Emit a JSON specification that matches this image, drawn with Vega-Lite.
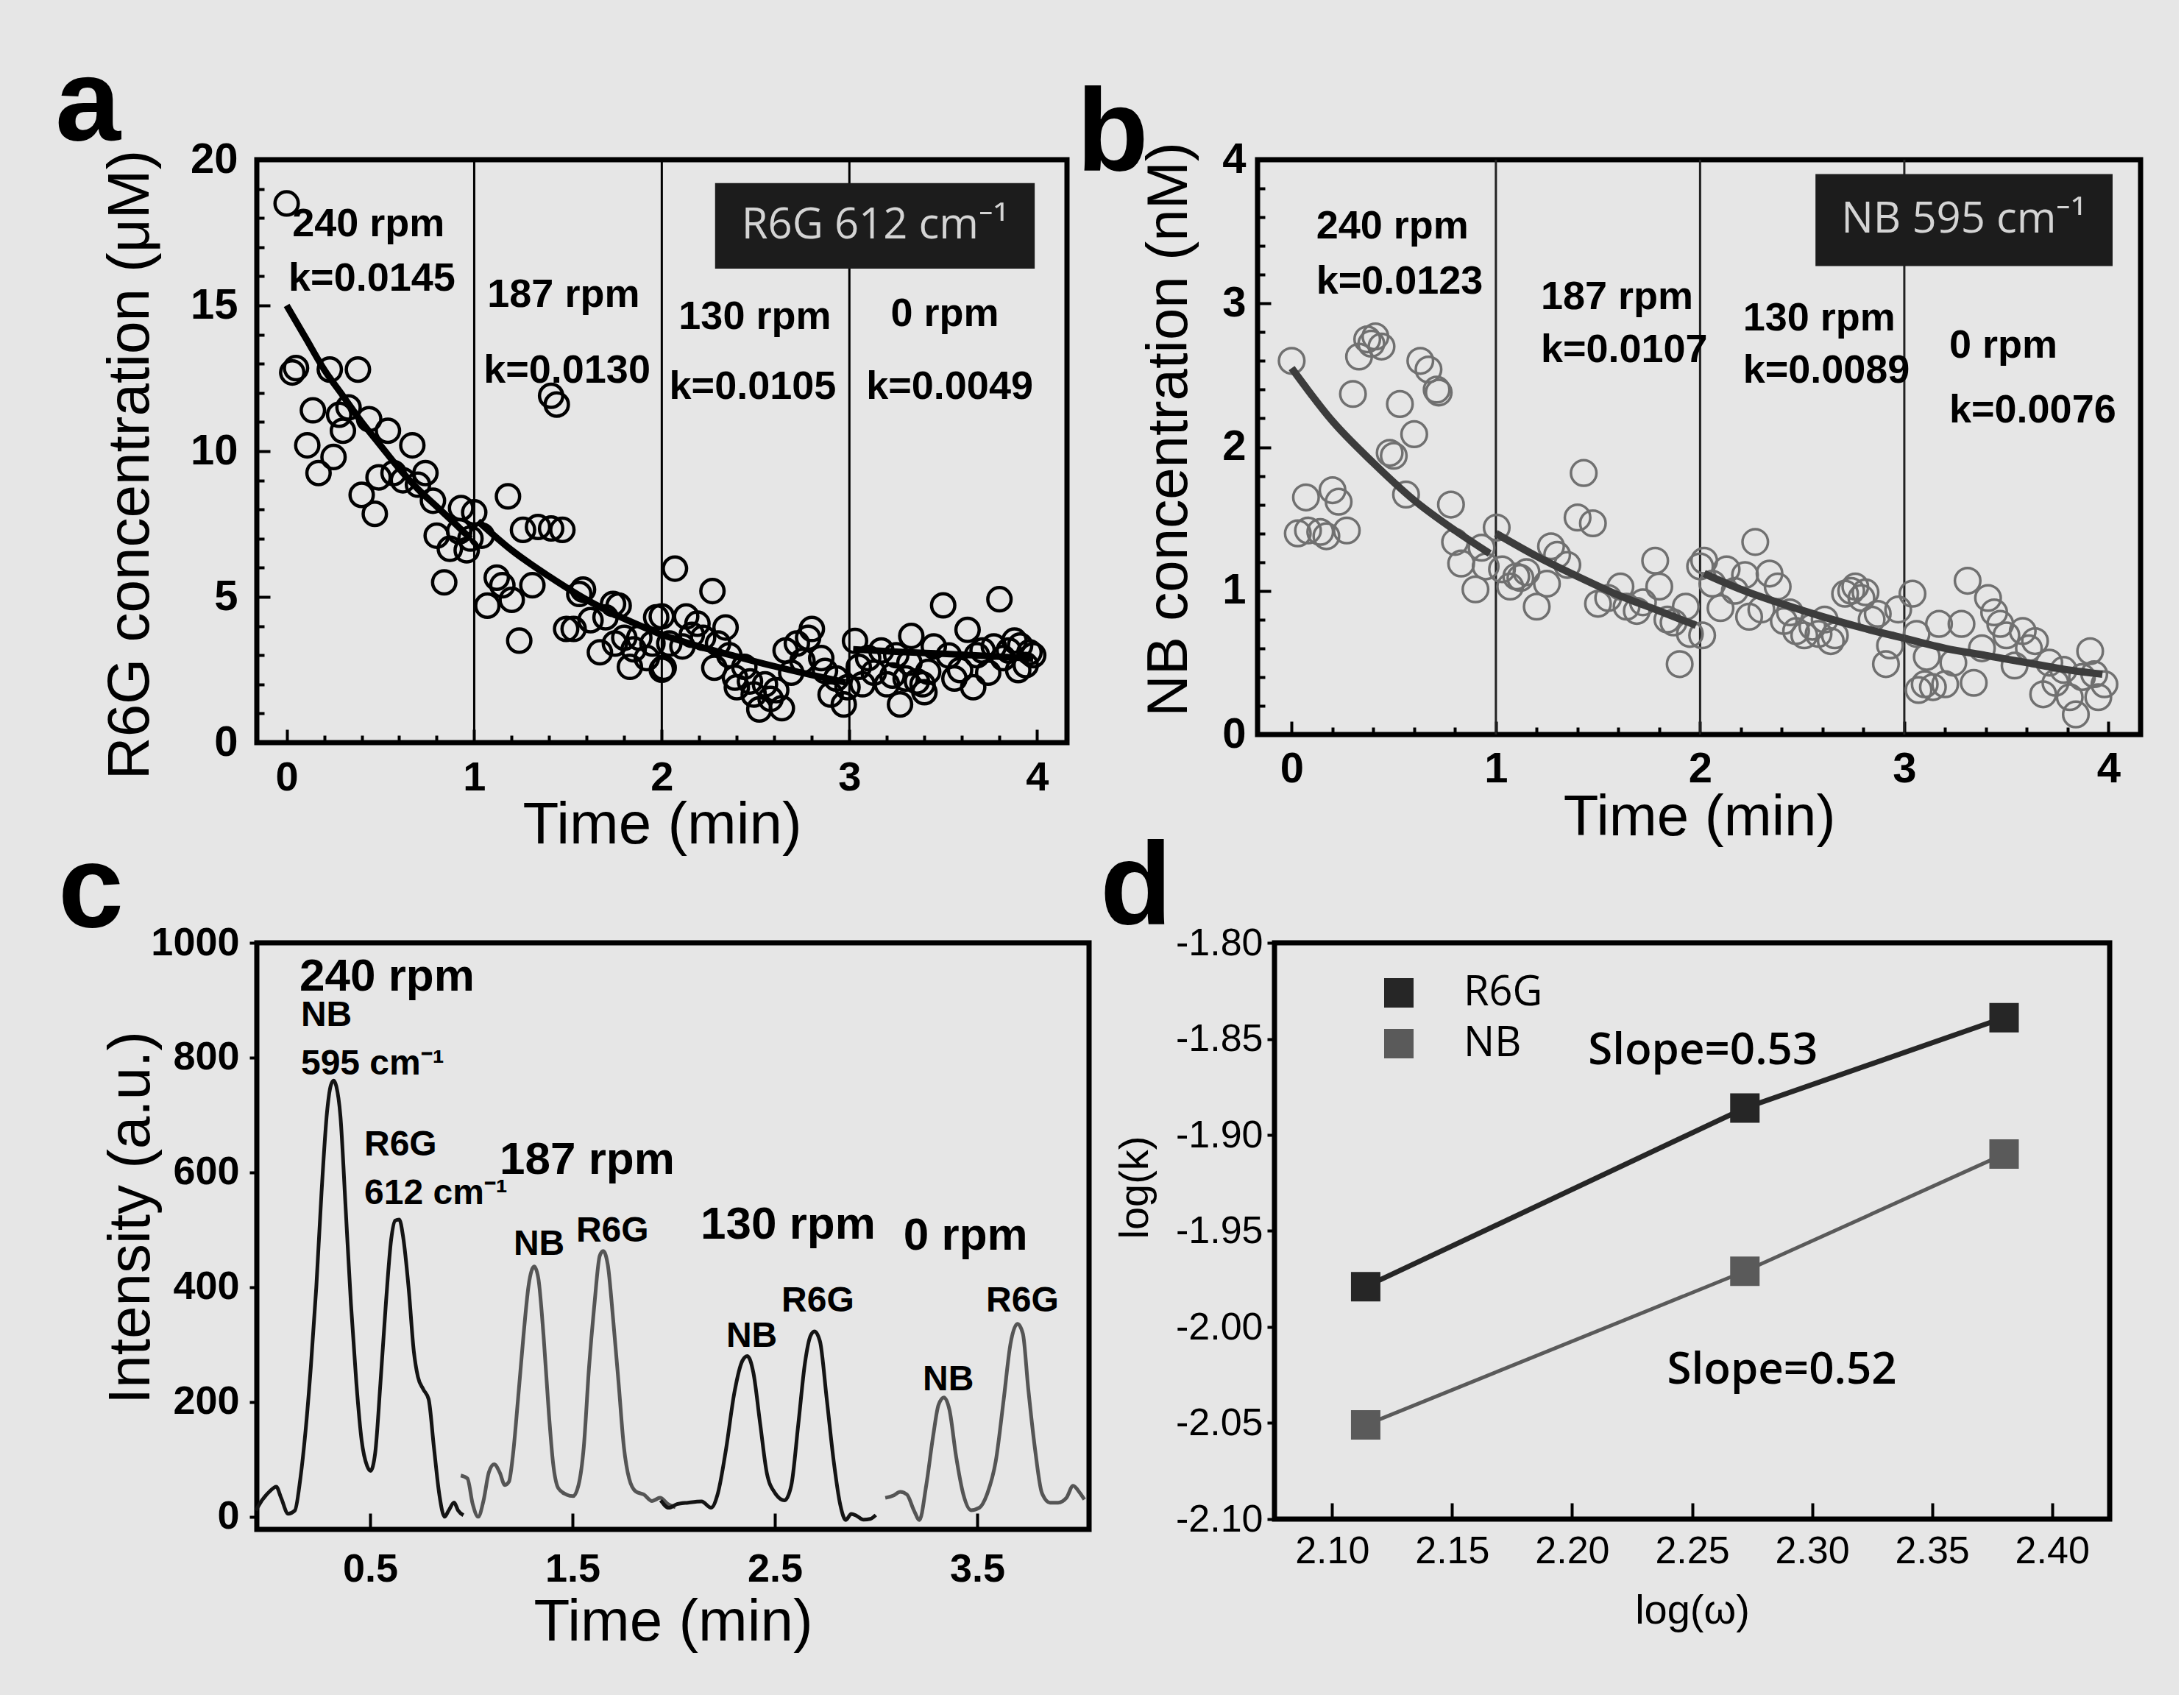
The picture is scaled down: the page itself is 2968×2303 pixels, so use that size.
{
  "$schema": "https://vega.github.io/schema/vega-lite/v6.json",
  "background": "#e6e6e6",
  "padding": {"left": 71, "top": 58, "right": 48, "bottom": 80},
  "bounds": "full",
  "spacing": -41,
  "resolve": {"scale": {"color": "independent"}, "legend": {"color": "independent"}},
  "config": {
    "view": {"stroke": "black", "strokeWidth": 7},
    "font": "Liberation Sans",
    "axis": {"grid": false, "domain": false, "tickColor": "black", "tickWidth": 4, "labelColor": "black", "titleColor": "black", "labelFont": "Liberation Sans", "titleFont": "Liberation Sans", "labelOverlap": false, "titleFontWeight": "normal", "labelFlush": false},
    "title": {"color": "black", "font": "Liberation Sans", "fontSize": 160, "fontWeight": "bold", "anchor": "start", "frame": "group", "baseline": "alphabetic"}
  },
  "datasets": {
    "vlines": [{"t": 1}, {"t": 2}, {"t": 3}],
    "a_pts": [
      {"t":0.0,"v":18.5},{"t":0.03,"v":12.7},{"t":0.05,"v":12.85},{"t":0.11,"v":10.2},{"t":0.14,"v":11.4},{"t":0.17,"v":9.25},{"t":0.23,"v":12.8},{"t":0.25,"v":9.8},{"t":0.28,"v":11.25},{"t":0.30,"v":10.7},{"t":0.33,"v":11.5},{"t":0.38,"v":12.8},{"t":0.40,"v":8.5},{"t":0.44,"v":11.1},{"t":0.47,"v":7.85},{"t":0.49,"v":9.1},{"t":0.54,"v":10.7},{"t":0.57,"v":9.25},{"t":0.62,"v":9.0},{"t":0.67,"v":10.2},{"t":0.70,"v":8.85},{"t":0.74,"v":9.25},{"t":0.78,"v":8.3},{"t":0.80,"v":7.1},{"t":0.84,"v":5.5},{"t":0.87,"v":6.65},{"t":0.92,"v":7.25},{"t":0.93,"v":8.05},{"t":0.98,"v":7.0},{"t":1.00,"v":7.9},{"t":0.96,"v":6.6},
      {"t":1.04,"v":7.1},{"t":1.07,"v":4.7},{"t":1.12,"v":5.66},{"t":1.15,"v":5.4},{"t":1.18,"v":8.45},{"t":1.20,"v":4.9},{"t":1.24,"v":3.5},{"t":1.26,"v":7.3},{"t":1.31,"v":5.4},{"t":1.34,"v":7.4},{"t":1.41,"v":7.35},{"t":1.41,"v":11.9},{"t":1.44,"v":11.6},{"t":1.47,"v":7.3},{"t":1.49,"v":3.9},{"t":1.53,"v":3.9},{"t":1.56,"v":5.1},{"t":1.58,"v":5.25},{"t":1.62,"v":4.2},{"t":1.67,"v":3.1},{"t":1.70,"v":4.3},{"t":1.74,"v":4.76},{"t":1.75,"v":3.4},{"t":1.77,"v":4.7},{"t":1.80,"v":3.6},{"t":1.83,"v":2.6},{"t":1.85,"v":3.2},{"t":1.88,"v":3.6},{"t":1.92,"v":2.9},{"t":1.97,"v":4.3},{"t":2.0,"v":2.5},{"t":1.95,"v":3.4},
      {"t":2.0,"v":4.33},{"t":2.01,"v":2.57},{"t":2.04,"v":3.4},{"t":2.07,"v":5.97},{"t":2.11,"v":3.3},{"t":2.13,"v":4.33},{"t":2.16,"v":3.7},{"t":2.19,"v":4.08},{"t":2.22,"v":3.6},{"t":2.27,"v":5.2},{"t":2.28,"v":2.57},{"t":2.30,"v":3.4},{"t":2.34,"v":3.95},{"t":2.36,"v":3.0},{"t":2.39,"v":2.23},{"t":2.40,"v":1.9},{"t":2.44,"v":2.6},{"t":2.47,"v":2.1},{"t":2.49,"v":1.65},{"t":2.52,"v":1.14},{"t":2.55,"v":2.0},{"t":2.58,"v":1.5},{"t":2.61,"v":1.8},{"t":2.64,"v":1.18},{"t":2.66,"v":3.16},{"t":2.69,"v":2.4},{"t":2.72,"v":3.4},{"t":2.75,"v":2.8},{"t":2.78,"v":3.6},{"t":2.80,"v":3.9},{"t":2.85,"v":2.9},{"t":2.87,"v":2.46},{"t":2.90,"v":1.65},{"t":2.93,"v":2.2},{"t":2.97,"v":1.31},{"t":2.99,"v":1.9},
      {"t":3.03,"v":3.49},{"t":3.05,"v":2.6},{"t":3.07,"v":2.0},{"t":3.10,"v":2.9},{"t":3.13,"v":2.4},{"t":3.17,"v":3.16},{"t":3.20,"v":2.0},{"t":3.23,"v":2.3},{"t":3.25,"v":3.0},{"t":3.27,"v":1.31},{"t":3.30,"v":2.2},{"t":3.32,"v":2.74},{"t":3.33,"v":3.66},{"t":3.36,"v":2.1},{"t":3.39,"v":2.0},{"t":3.40,"v":1.73},{"t":3.42,"v":2.43},{"t":3.45,"v":3.3},{"t":3.50,"v":4.71},{"t":3.53,"v":2.99},{"t":3.56,"v":2.2},{"t":3.59,"v":2.49},{"t":3.63,"v":3.87},{"t":3.66,"v":1.9},{"t":3.68,"v":3.0},{"t":3.71,"v":3.16},{"t":3.74,"v":2.4},{"t":3.77,"v":3.3},{"t":3.80,"v":4.92},{"t":3.82,"v":2.9},{"t":3.85,"v":3.16},{"t":3.88,"v":3.5},{"t":3.90,"v":2.49},{"t":3.91,"v":3.33},{"t":3.94,"v":2.66},{"t":3.96,"v":3.1},{"t":3.98,"v":3.0}
    ],
    "a_fit": [
      {"seg":"s1","t":0,"v":15.0},{"seg":"s1","t":0.1,"v":13.9},{"seg":"s1","t":0.2,"v":12.8},{"seg":"s1","t":0.3,"v":11.9},{"seg":"s1","t":0.4,"v":11.0},{"seg":"s1","t":0.5,"v":10.2},{"seg":"s1","t":0.6,"v":9.4},{"seg":"s1","t":0.7,"v":8.7},{"seg":"s1","t":0.8,"v":8.1},{"seg":"s1","t":0.9,"v":7.5},{"seg":"s1","t":0.98,"v":7.0},
      {"seg":"s2","t":1.02,"v":7.6},{"seg":"s2","t":1.2,"v":6.6},{"seg":"s2","t":1.4,"v":5.7},{"seg":"s2","t":1.6,"v":4.9},{"seg":"s2","t":1.8,"v":4.25},{"seg":"s2","t":2.0,"v":3.7},
      {"seg":"s3","t":2.0,"v":3.7},{"seg":"s3","t":2.2,"v":3.3},{"seg":"s3","t":2.4,"v":2.95},{"seg":"s3","t":2.6,"v":2.62},{"seg":"s3","t":2.8,"v":2.32},{"seg":"s3","t":2.98,"v":2.07},
      {"seg":"s4","t":3.02,"v":3.2},{"seg":"s4","t":3.25,"v":3.12},{"seg":"s4","t":3.5,"v":3.05},{"seg":"s4","t":3.75,"v":2.97},{"seg":"s4","t":3.98,"v":2.88}
    ],
    "a_box": [{"t":2.284,"t2":3.988,"v":16.26,"v2":19.2,"tc":3.136,"vc":17.73,"label":"R6G 612 cm⁻¹"}],
    "a_txt": [
      {"t":0.03,"v":17.37,"label":"240 rpm"},{"t":0.01,"v":15.5,"label":"k=0.0145"},
      {"t":1.07,"v":14.95,"label":"187 rpm"},{"t":1.05,"v":12.35,"label":"k=0.0130"},
      {"t":2.09,"v":14.2,"label":"130 rpm"},{"t":2.04,"v":11.8,"label":"k=0.0105"},
      {"t":3.22,"v":14.3,"label":"0 rpm"},{"t":3.09,"v":11.8,"label":"k=0.0049"}
    ],
    "b_pts": [
      {"t":0.0,"v":2.60},{"t":0.03,"v":1.40},{"t":0.07,"v":1.65},{"t":0.08,"v":1.42},{"t":0.14,"v":1.41},{"t":0.17,"v":1.38},{"t":0.20,"v":1.70},{"t":0.23,"v":1.62},{"t":0.27,"v":1.42},{"t":0.30,"v":2.37},{"t":0.33,"v":2.63},{"t":0.37,"v":2.75},{"t":0.39,"v":2.72},{"t":0.41,"v":2.77},{"t":0.44,"v":2.70},{"t":0.48,"v":1.96},{"t":0.50,"v":1.94},{"t":0.53,"v":2.30},{"t":0.56,"v":1.67},{"t":0.60,"v":2.09},{"t":0.63,"v":2.60},{"t":0.67,"v":2.54},{"t":0.71,"v":2.40},{"t":0.72,"v":2.38},{"t":0.78,"v":1.60},{"t":0.80,"v":1.34},{"t":0.83,"v":1.19},{"t":0.90,"v":1.01},{"t":0.95,"v":1.17},{"t":0.93,"v":1.30},
      {"t":1.004,"v":1.44},{"t":1.03,"v":1.15},{"t":1.07,"v":1.03},{"t":1.10,"v":1.10},{"t":1.12,"v":1.09},{"t":1.15,"v":1.13},{"t":1.20,"v":0.89},{"t":1.25,"v":1.05},{"t":1.27,"v":1.31},{"t":1.30,"v":1.25},{"t":1.35,"v":1.18},{"t":1.40,"v":1.51},{"t":1.43,"v":1.82},{"t":1.475,"v":1.47},{"t":1.50,"v":0.91},{"t":1.55,"v":0.95},{"t":1.61,"v":1.03},{"t":1.64,"v":0.89},{"t":1.69,"v":0.86},{"t":1.72,"v":0.92},{"t":1.78,"v":1.21},{"t":1.80,"v":1.03},{"t":1.84,"v":0.80},{"t":1.87,"v":0.78},{"t":1.90,"v":0.49},{"t":1.93,"v":0.89},{"t":1.95,"v":0.70},{"t":2.0,"v":1.17},
      {"t":2.01,"v":0.69},{"t":2.02,"v":1.21},{"t":2.06,"v":1.05},{"t":2.10,"v":0.88},{"t":2.13,"v":1.15},{"t":2.17,"v":1.00},{"t":2.22,"v":1.11},{"t":2.24,"v":0.82},{"t":2.27,"v":1.34},{"t":2.30,"v":0.87},{"t":2.34,"v":1.12},{"t":2.38,"v":1.03},{"t":2.41,"v":0.79},{"t":2.44,"v":0.85},{"t":2.47,"v":0.72},{"t":2.51,"v":0.69},{"t":2.55,"v":0.75},{"t":2.58,"v":0.70},{"t":2.61,"v":0.80},{"t":2.64,"v":0.65},{"t":2.66,"v":0.69},{"t":2.71,"v":0.98},{"t":2.74,"v":1.00},{"t":2.76,"v":1.03},{"t":2.79,"v":0.95},{"t":2.81,"v":0.99},{"t":2.84,"v":0.80},{"t":2.87,"v":0.84},{"t":2.91,"v":0.49},{"t":2.93,"v":0.62},{"t":2.97,"v":0.87},
      {"t":3.04,"v":0.98},{"t":3.06,"v":0.70},{"t":3.07,"v":0.31},{"t":3.10,"v":0.35},{"t":3.11,"v":0.54},{"t":3.14,"v":0.33},{"t":3.17,"v":0.77},{"t":3.20,"v":0.35},{"t":3.24,"v":0.50},{"t":3.28,"v":0.77},{"t":3.31,"v":1.07},{"t":3.34,"v":0.36},{"t":3.38,"v":0.60},{"t":3.41,"v":0.95},{"t":3.44,"v":0.85},{"t":3.47,"v":0.77},{"t":3.50,"v":0.69},{"t":3.54,"v":0.48},{"t":3.58,"v":0.72},{"t":3.61,"v":0.60},{"t":3.64,"v":0.65},{"t":3.68,"v":0.28},{"t":3.71,"v":0.50},{"t":3.74,"v":0.36},{"t":3.78,"v":0.45},{"t":3.81,"v":0.26},{"t":3.84,"v":0.14},{"t":3.87,"v":0.40},{"t":3.91,"v":0.58},{"t":3.93,"v":0.42},{"t":3.95,"v":0.26},{"t":3.98,"v":0.35}
    ],
    "b_fit": [
      {"seg":"s1","t":0,"v":2.55},{"seg":"s1","t":0.2,"v":2.18},{"seg":"s1","t":0.4,"v":1.89},{"seg":"s1","t":0.6,"v":1.63},{"seg":"s1","t":0.8,"v":1.42},{"seg":"s1","t":0.97,"v":1.26},
      {"seg":"s2","t":1.0,"v":1.40},{"seg":"s2","t":1.2,"v":1.24},{"seg":"s2","t":1.4,"v":1.10},{"seg":"s2","t":1.6,"v":0.97},{"seg":"s2","t":1.8,"v":0.86},{"seg":"s2","t":1.98,"v":0.76},
      {"seg":"s3","t":2.02,"v":1.12},{"seg":"s3","t":2.2,"v":1.01},{"seg":"s3","t":2.4,"v":0.91},{"seg":"s3","t":2.6,"v":0.82},{"seg":"s3","t":2.8,"v":0.74},{"seg":"s3","t":3.0,"v":0.67},
      {"seg":"s4","t":3.0,"v":0.67},{"seg":"s4","t":3.2,"v":0.60},{"seg":"s4","t":3.4,"v":0.55},{"seg":"s4","t":3.6,"v":0.50},{"seg":"s4","t":3.8,"v":0.45},{"seg":"s4","t":3.97,"v":0.42}
    ],
    "b_box": [{"t":2.565,"t2":4.02,"v":3.26,"v2":3.90,"tc":3.29,"vc":3.58,"label":"NB 595 cm⁻¹"}],
    "b_txt": [
      {"t":0.12,"v":3.45,"label":"240 rpm"},{"t":0.12,"v":3.07,"label":"k=0.0123"},
      {"t":1.22,"v":2.96,"label":"187 rpm"},{"t":1.22,"v":2.59,"label":"k=0.0107"},
      {"t":2.21,"v":2.81,"label":"130 rpm"},{"t":2.21,"v":2.45,"label":"k=0.0089"},
      {"t":3.22,"v":2.62,"label":"0 rpm"},{"t":3.22,"v":2.17,"label":"k=0.0076"}
    ],
    "c_line": [
      {"seg":"s1","t":-0.064,"v":10.9},{"seg":"s1","t":-0.056,"v":16.5},{"seg":"s1","t":0.003,"v":44},{"seg":"s1","t":0.036,"v":52.5},{"seg":"s1","t":0.06,"v":33},{"seg":"s1","t":0.095,"v":5.4},{"seg":"s1","t":0.128,"v":10.9},{"seg":"s1","t":0.155,"v":66},{"seg":"s1","t":0.181,"v":150},{"seg":"s1","t":0.207,"v":261},{"seg":"s1","t":0.234,"v":400},{"seg":"s1","t":0.26,"v":566},{"seg":"s1","t":0.287,"v":705},{"seg":"s1","t":0.306,"v":752},{"seg":"s1","t":0.32,"v":760},{"seg":"s1","t":0.333,"v":750},{"seg":"s1","t":0.353,"v":699},{"seg":"s1","t":0.379,"v":538},{"seg":"s1","t":0.405,"v":372},{"seg":"s1","t":0.432,"v":233},{"seg":"s1","t":0.458,"v":133},{"seg":"s1","t":0.485,"v":88.6},{"seg":"s1","t":0.502,"v":80},{"seg":"s1","t":0.525,"v":111},{"seg":"s1","t":0.551,"v":233},{"seg":"s1","t":0.578,"v":372},{"seg":"s1","t":0.604,"v":483},{"seg":"s1","t":0.624,"v":516},{"seg":"s1","t":0.644,"v":518},{"seg":"s1","t":0.663,"v":488},{"seg":"s1","t":0.69,"v":400},{"seg":"s1","t":0.716,"v":288},{"seg":"s1","t":0.736,"v":244},{"seg":"s1","t":0.763,"v":222},{"seg":"s1","t":0.789,"v":205},{"seg":"s1","t":0.815,"v":122},{"seg":"s1","t":0.842,"v":38.7},{"seg":"s1","t":0.868,"v":0},{"seg":"s1","t":0.888,"v":10.9},{"seg":"s1","t":0.915,"v":24.8},{"seg":"s1","t":0.935,"v":10.9},{"seg":"s1","t":0.961,"v":2.7},
      {"seg":"s2","t":0.948,"v":72},{"seg":"s2","t":0.981,"v":66.6},{"seg":"s2","t":1.007,"v":22},{"seg":"s2","t":1.034,"v":0},{"seg":"s2","t":1.06,"v":27.5},{"seg":"s2","t":1.087,"v":77.6},{"seg":"s2","t":1.113,"v":91.4},{"seg":"s2","t":1.14,"v":77.6},{"seg":"s2","t":1.166,"v":55.3},{"seg":"s2","t":1.186,"v":61},{"seg":"s2","t":1.205,"v":105},{"seg":"s2","t":1.231,"v":205},{"seg":"s2","t":1.258,"v":316},{"seg":"s2","t":1.284,"v":405},{"seg":"s2","t":1.311,"v":436},{"seg":"s2","t":1.331,"v":416},{"seg":"s2","t":1.357,"v":316},{"seg":"s2","t":1.384,"v":177},{"seg":"s2","t":1.404,"v":94},{"seg":"s2","t":1.43,"v":49.8},{"seg":"s2","t":1.47,"v":38.7},{"seg":"s2","t":1.503,"v":35.9},{"seg":"s2","t":1.53,"v":55.3},{"seg":"s2","t":1.556,"v":122},{"seg":"s2","t":1.582,"v":261},{"seg":"s2","t":1.609,"v":372},{"seg":"s2","t":1.635,"v":455},{"seg":"s2","t":1.652,"v":463},{"seg":"s2","t":1.675,"v":438},{"seg":"s2","t":1.701,"v":344},{"seg":"s2","t":1.728,"v":233},{"seg":"s2","t":1.754,"v":122},{"seg":"s2","t":1.78,"v":66.6},{"seg":"s2","t":1.813,"v":44},{"seg":"s2","t":1.853,"v":38.7},{"seg":"s2","t":1.893,"v":27.5},{"seg":"s2","t":1.933,"v":33},{"seg":"s2","t":1.972,"v":22},{"seg":"s2","t":2.009,"v":16.5},
      {"seg":"s3","t":1.936,"v":28.6},{"seg":"s3","t":1.976,"v":15.8},{"seg":"s3","t":2.017,"v":22},{"seg":"s3","t":2.071,"v":24.6},{"seg":"s3","t":2.138,"v":26.7},{"seg":"s3","t":2.185,"v":15.8},{"seg":"s3","t":2.219,"v":41.4},{"seg":"s3","t":2.259,"v":118},{"seg":"s3","t":2.3,"v":216},{"seg":"s3","t":2.34,"v":272},{"seg":"s3","t":2.364,"v":280},{"seg":"s3","t":2.394,"v":251},{"seg":"s3","t":2.428,"v":161},{"seg":"s3","t":2.461,"v":75.5},{"seg":"s3","t":2.501,"v":41.4},{"seg":"s3","t":2.548,"v":28.6},{"seg":"s3","t":2.581,"v":54},{"seg":"s3","t":2.616,"v":161},{"seg":"s3","t":2.649,"v":268},{"seg":"s3","t":2.676,"v":315},{"seg":"s3","t":2.696,"v":323},{"seg":"s3","t":2.723,"v":306},{"seg":"s3","t":2.757,"v":204},{"seg":"s3","t":2.791,"v":97},{"seg":"s3","t":2.824,"v":20},{"seg":"s3","t":2.851,"v":-5.5},{"seg":"s3","t":2.878,"v":5},{"seg":"s3","t":2.905,"v":1.5},{"seg":"s3","t":2.938,"v":-5},{"seg":"s3","t":2.972,"v":-3.7},{"seg":"s3","t":2.999,"v":3},
      {"seg":"s4","t":3.046,"v":33},{"seg":"s4","t":3.086,"v":37},{"seg":"s4","t":3.12,"v":43.5},{"seg":"s4","t":3.153,"v":38.8},{"seg":"s4","t":3.187,"v":11.5},{"seg":"s4","t":3.215,"v":-5.5},{"seg":"s4","t":3.248,"v":54},{"seg":"s4","t":3.282,"v":139.6},{"seg":"s4","t":3.309,"v":195},{"seg":"s4","t":3.336,"v":208},{"seg":"s4","t":3.363,"v":186.5},{"seg":"s4","t":3.396,"v":105},{"seg":"s4","t":3.43,"v":41.4},{"seg":"s4","t":3.47,"v":11.5},{"seg":"s4","t":3.511,"v":15.8},{"seg":"s4","t":3.551,"v":41.4},{"seg":"s4","t":3.592,"v":97},{"seg":"s4","t":3.631,"v":204},{"seg":"s4","t":3.665,"v":302},{"seg":"s4","t":3.699,"v":336},{"seg":"s4","t":3.726,"v":319},{"seg":"s4","t":3.752,"v":225},{"seg":"s4","t":3.786,"v":118},{"seg":"s4","t":3.82,"v":41.4},{"seg":"s4","t":3.86,"v":24.6},{"seg":"s4","t":3.9,"v":24.6},{"seg":"s4","t":3.941,"v":33},{"seg":"s4","t":3.974,"v":54},{"seg":"s4","t":4.008,"v":41.4},{"seg":"s4","t":4.03,"v":30}
    ],
    "c_big": [
      {"t":0.151,"v":917,"label":"240 rpm"},{"t":1.14,"v":597,"label":"187 rpm"},{"t":2.133,"v":484,"label":"130 rpm"},{"t":3.136,"v":465,"label":"0 rpm"}
    ],
    "c_small": [
      {"t":0.158,"v":855,"label":"NB"},{"t":0.158,"v":771,"label":"595 cm⁻¹"},{"t":0.471,"v":630,"label":"R6G"},{"t":0.471,"v":545,"label":"612 cm⁻¹"},
      {"t":1.209,"v":456,"label":"NB"},{"t":1.518,"v":479,"label":"R6G"},{"t":2.26,"v":296,"label":"NB"},{"t":2.533,"v":357,"label":"R6G"},{"t":3.231,"v":220,"label":"NB"},{"t":3.544,"v":357,"label":"R6G"}
    ],
    "d_pts": [
      {"dye":"R6G","lw":2.114,"lk":-1.979},{"dye":"R6G","lw":2.272,"lk":-1.886},{"dye":"R6G","lw":2.380,"lk":-1.839},
      {"dye":"NB","lw":2.114,"lk":-2.051},{"dye":"NB","lw":2.272,"lk":-1.971},{"dye":"NB","lw":2.380,"lk":-1.910}
    ],
    "d_txt": [{"lw":2.2067,"lk":-1.8632,"label":"Slope=0.53"},{"lw":2.2396,"lk":-2.0295,"label":"Slope=0.52"}]
  },
  "vconcat": [
    {
      "hconcat": [
        {
          "width": 1101, "height": 792,
          "title": {"text": "a", "dx": -274, "offset": -36},
          "resolve": {"scale": {"x": "independent", "y": "independent"}, "axis": {"x": "independent", "y": "independent"}},
          "layer": [
            {
              "layer": [
                {"data": {"name": "vlines"}, "mark": {"type": "rule", "color": "black", "strokeWidth": 3},
                 "encoding": {"x": {"field": "t", "type": "quantitative"}}},
                {"data": {"name": "a_pts"},
                 "mark": {"type": "point", "shape": "circle", "filled": false, "stroke": "black", "strokeWidth": 4.5, "size": 1000, "opacity": 1},
                 "encoding": {
                   "x": {"field": "t", "type": "quantitative", "scale": {"domain": [-0.159, 4.16], "nice": false, "zero": false},
                         "axis": {"orient": "bottom", "title": "Time (min)", "values": [0, 1, 2, 3, 4], "format": "d", "tickSize": -18,
                                  "labelFontSize": 56, "labelFontWeight": "bold", "labelPadding": 38, "titleFontSize": 80, "titlePadding": -2}},
                   "y": {"field": "v", "type": "quantitative", "scale": {"domain": [0, 20], "nice": false},
                         "axis": {"orient": "left", "title": "R6G concentration (μM)", "values": [0, 5, 10, 15, 20], "format": "d", "tickSize": -18,
                                  "labelFontSize": 58, "labelFontWeight": "bold", "labelPadding": 44, "titleFontSize": 80, "titlePadding": 40, "titleY": 414}}
                 }},
                {"data": {"name": "a_fit"}, "mark": {"type": "line", "color": "black", "strokeWidth": 9, "interpolate": "monotone"},
                 "encoding": {"x": {"field": "t", "type": "quantitative"}, "y": {"field": "v", "type": "quantitative"}, "detail": {"field": "seg"}}},
                {"data": {"name": "a_box"}, "mark": {"type": "rect", "color": "#1c1c1c"},
                 "encoding": {"x": {"field": "t", "type": "quantitative"}, "x2": {"field": "t2"}, "y": {"field": "v", "type": "quantitative"}, "y2": {"field": "v2"}}},
                {"data": {"name": "a_box"}, "mark": {"type": "text", "font": "Open Sans", "fontSize": 58, "color": "#d4d4d4", "align": "center", "baseline": "middle"},
                 "encoding": {"x": {"field": "tc", "type": "quantitative"}, "y": {"field": "vc", "type": "quantitative"}, "text": {"field": "label"}}},
                {"data": {"name": "a_txt"}, "mark": {"type": "text", "fontSize": 54, "fontWeight": "bold", "align": "left", "baseline": "alphabetic", "color": "black"},
                 "encoding": {"x": {"field": "t", "type": "quantitative"}, "y": {"field": "v", "type": "quantitative"}, "text": {"field": "label"}}}
              ]
            },
            {"data": {"name": "a_pts"}, "mark": {"type": "point", "opacity": 0},
             "encoding": {
               "x": {"field": "t", "type": "quantitative", "scale": {"domain": [-0.159, 4.16], "nice": false, "zero": false},
                     "axis": {"orient": "bottom", "title": null, "labels": false, "values": [0.2,0.4,0.6,0.8,1.2,1.4,1.6,1.8,2.2,2.4,2.6,2.8,3.2,3.4,3.6,3.8], "tickSize": -10}},
               "y": {"field": "v", "type": "quantitative", "scale": {"domain": [0, 20], "nice": false},
                     "axis": {"orient": "left", "title": null, "labels": false, "values": [1,2,3,4,6,7,8,9,11,12,13,14,16,17,18,19], "tickSize": -10}}
             }}
          ]
        },
        {
          "width": 1200, "height": 781,
          "title": {"text": "b", "dx": -246, "offset": -78},
          "resolve": {"scale": {"x": "independent", "y": "independent"}, "axis": {"x": "independent", "y": "independent"}},
          "layer": [
            {
              "layer": [
                {"data": {"name": "vlines"}, "mark": {"type": "rule", "color": "#222222", "strokeWidth": 3},
                 "encoding": {"x": {"field": "t", "type": "quantitative"}}},
                {"data": {"name": "b_pts"},
                 "mark": {"type": "point", "shape": "circle", "filled": false, "stroke": "#707070", "strokeWidth": 3.5, "size": 1200, "opacity": 1},
                 "encoding": {
                   "x": {"field": "t", "type": "quantitative", "scale": {"domain": [-0.167, 4.157], "nice": false, "zero": false},
                         "axis": {"orient": "bottom", "title": "Time (min)", "values": [0, 1, 2, 3, 4], "format": "d", "tickSize": -18,
                                  "labelFontSize": 58, "labelFontWeight": "bold", "labelPadding": 36, "titleFontSize": 78, "titlePadding": -2}},
                   "y": {"field": "v", "type": "quantitative", "scale": {"domain": [0, 4], "nice": false},
                         "axis": {"orient": "left", "title": "NB concentration (nM)", "values": [0, 1, 2, 3, 4], "format": "d", "tickSize": -18,
                                  "labelFontSize": 58, "labelFontWeight": "bold", "labelPadding": 34, "titleFontSize": 78, "titlePadding": 32, "titleY": 366}}
                 }},
                {"data": {"name": "b_fit"}, "mark": {"type": "line", "color": "#3c3c3c", "strokeWidth": 10, "interpolate": "monotone"},
                 "encoding": {"x": {"field": "t", "type": "quantitative"}, "y": {"field": "v", "type": "quantitative"}, "detail": {"field": "seg"}}},
                {"data": {"name": "b_box"}, "mark": {"type": "rect", "color": "#1c1c1c"},
                 "encoding": {"x": {"field": "t", "type": "quantitative"}, "x2": {"field": "t2"}, "y": {"field": "v", "type": "quantitative"}, "y2": {"field": "v2"}}},
                {"data": {"name": "b_box"}, "mark": {"type": "text", "font": "Open Sans", "fontSize": 58, "color": "#d4d4d4", "align": "center", "baseline": "middle"},
                 "encoding": {"x": {"field": "tc", "type": "quantitative"}, "y": {"field": "vc", "type": "quantitative"}, "text": {"field": "label"}}},
                {"data": {"name": "b_txt"}, "mark": {"type": "text", "fontSize": 54, "fontWeight": "bold", "align": "left", "baseline": "alphabetic", "color": "black"},
                 "encoding": {"x": {"field": "t", "type": "quantitative"}, "y": {"field": "v", "type": "quantitative"}, "text": {"field": "label"}}}
              ]
            },
            {"data": {"name": "b_pts"}, "mark": {"type": "point", "opacity": 0},
             "encoding": {
               "x": {"field": "t", "type": "quantitative", "scale": {"domain": [-0.167, 4.157], "nice": false, "zero": false},
                     "axis": {"orient": "bottom", "title": null, "labels": false, "values": [0.2,0.4,0.6,0.8,1.2,1.4,1.6,1.8,2.2,2.4,2.6,2.8,3.2,3.4,3.6,3.8], "tickSize": -10}},
               "y": {"field": "v", "type": "quantitative", "scale": {"domain": [0, 4], "nice": false},
                     "axis": {"orient": "left", "title": null, "labels": false, "values": [0.2,0.4,0.6,0.8,1.2,1.4,1.6,1.8,2.2,2.4,2.6,2.8,3.2,3.4,3.6,3.8], "tickSize": -10}}
             }}
          ]
        }
      ],
      "spacing": 259,
      "bounds": "flush"
    },
    {
      "hconcat": [
        {
          "width": 1131, "height": 797,
          "title": {"text": "c", "dx": -270, "offset": -39},
          "layer": [
            {"data": {"name": "c_line"},
             "mark": {"type": "line", "strokeWidth": 5, "interpolate": "monotone"},
             "encoding": {
               "x": {"field": "t", "type": "quantitative", "scale": {"domain": [-0.06, 4.053], "nice": false, "zero": false},
                     "axis": {"title": "Time (min)", "values": [0.5, 1.5, 2.5, 3.5], "format": ".1f", "tickSize": -22,
                              "labelFontSize": 54, "labelFontWeight": "bold", "labelPadding": 49, "titleFontSize": 80, "titlePadding": 6}},
               "y": {"field": "v", "type": "quantitative", "scale": {"domain": [-22, 1000], "nice": false, "zero": false},
                     "axis": {"title": "Intensity (a.u.)", "values": [0, 200, 400, 600, 800, 1000], "format": "d", "tickSize": 10,
                              "labelFontSize": 54, "labelFontWeight": "bold", "labelPadding": 14, "titleFontSize": 80, "titlePadding": -15, "titleY": 373}},
               "detail": {"field": "seg"},
               "color": {"condition": {"test": "datum.seg === 's1' || datum.seg === 's3'", "value": "#141414"}, "value": "#555555"}
             }},
            {"data": {"name": "c_big"}, "mark": {"type": "text", "fontSize": 62, "fontWeight": "bold", "align": "left", "baseline": "alphabetic", "color": "black"},
             "encoding": {"x": {"field": "t", "type": "quantitative"}, "y": {"field": "v", "type": "quantitative"}, "text": {"field": "label"}}},
            {"data": {"name": "c_small"}, "mark": {"type": "text", "fontSize": 48, "fontWeight": "bold", "align": "left", "baseline": "alphabetic", "color": "black"},
             "encoding": {"x": {"field": "t", "type": "quantitative"}, "y": {"field": "v", "type": "quantitative"}, "text": {"field": "label"}}}
          ]
        },
        {
          "width": 1135, "height": 783,
          "title": {"text": "d", "dx": -237, "offset": -35},
          "layer": [
            {"data": {"name": "d_pts"},
             "mark": {"type": "line"},
             "encoding": {
               "x": {"field": "lw", "type": "quantitative", "scale": {"domain": [2.076, 2.424], "nice": false, "zero": false},
                     "axis": {"title": "log(ω)", "values": [2.1, 2.15, 2.2, 2.25, 2.3, 2.35, 2.4], "format": ".2f", "tickSize": -22,
                              "labelFontSize": 52, "labelPadding": 40, "titleFontSize": 56, "titlePadding": 28}},
               "y": {"field": "lk", "type": "quantitative", "scale": {"domain": [-2.1, -1.8], "nice": false, "zero": false},
                     "axis": {"title": "log(k)", "values": [-1.8, -1.85, -1.9, -1.95, -2, -2.05, -2.1], "tickSize": 10,
                              "labelExpr": "(datum.value < 0 ? '-' : '') + format(abs(datum.value), '.2f')",
                              "labelFontSize": 52, "labelPadding": 6, "titleFontSize": 56, "titlePadding": 26, "titleY": 332}},
               "detail": {"field": "dye"},
               "color": {"condition": {"test": "datum.dye === 'R6G'", "value": "#262626"}, "value": "#5a5a5a"},
               "strokeWidth": {"condition": {"test": "datum.dye === 'R6G'", "value": 7}, "value": 5}
             }},
            {"data": {"name": "d_pts"},
             "mark": {"type": "point", "shape": "square", "filled": true, "size": 1600, "opacity": 1},
             "encoding": {
               "x": {"field": "lw", "type": "quantitative"},
               "y": {"field": "lk", "type": "quantitative"},
               "color": {"field": "dye", "type": "nominal", "scale": {"domain": ["R6G", "NB"], "range": ["#262626", "#5a5a5a"]},
                         "legend": {"title": null, "orient": "none", "legendX": 141, "legendY": 40, "symbolType": "square", "symbolSize": 1600, "symbolStrokeWidth": 0,
                                    "labelFontSize": 56, "labelFont": "Open Sans", "labelColor": "black", "labelOffset": 60, "rowPadding": 13, "padding": 0}}
             }},
            {"data": {"name": "d_txt"}, "mark": {"type": "text", "font": "Open Sans", "fontSize": 60, "fontWeight": 600, "align": "left", "baseline": "alphabetic", "color": "black"},
             "encoding": {"x": {"field": "lw", "type": "quantitative"}, "y": {"field": "lk", "type": "quantitative"}, "text": {"field": "label"}}}
          ]
        }
      ],
      "spacing": 252,
      "bounds": "flush",
      "resolve": {"scale": {"color": "independent"}, "legend": {"color": "independent"}}
    }
  ]
}
